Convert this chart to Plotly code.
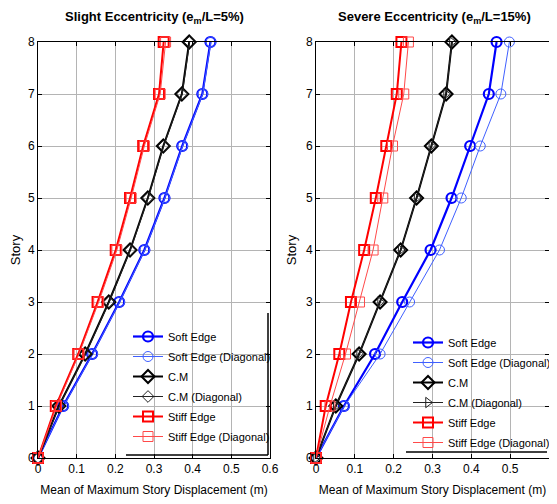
import plotly.graph_objects as go

stories = [0, 1, 2, 3, 4, 5, 6, 7, 8]
tick_vals_x = [0, 0.1, 0.2, 0.3, 0.4, 0.5, 0.6]
tick_text_x = ["0", "0.1", "0.2", "0.3", "0.4", "0.5", "0.6"]

# Slight eccentricity (e_m/L = 5%)
slight_soft = [0, 0.065, 0.140, 0.210, 0.275, 0.327, 0.373, 0.425, 0.446]
slight_soft_diag = [0, 0.066, 0.141, 0.211, 0.276, 0.328, 0.374, 0.426, 0.447]
slight_cm = [0, 0.054, 0.122, 0.183, 0.238, 0.284, 0.324, 0.372, 0.391]
slight_cm_diag = [0, 0.055, 0.123, 0.184, 0.239, 0.285, 0.325, 0.373, 0.392]
slight_stiff = [0, 0.046, 0.104, 0.154, 0.201, 0.238, 0.272, 0.313, 0.325]
slight_stiff_diag = [0, 0.048, 0.106, 0.157, 0.204, 0.241, 0.275, 0.316, 0.330]

# Severe eccentricity (e_m/L = 15%)
severe_soft = [0, 0.072, 0.152, 0.222, 0.295, 0.349, 0.397, 0.445, 0.465]
severe_soft_diag = [0, 0.073, 0.165, 0.241, 0.318, 0.374, 0.423, 0.476, 0.498]
severe_cm = [0, 0.051, 0.111, 0.165, 0.218, 0.259, 0.297, 0.335, 0.350]
severe_cm_diag = [0, 0.051, 0.111, 0.165, 0.218, 0.259, 0.297, 0.335, 0.350]
severe_stiff = [0, 0.025, 0.060, 0.090, 0.124, 0.154, 0.181, 0.208, 0.220]
severe_stiff_diag = [0, 0.036, 0.076, 0.112, 0.147, 0.172, 0.197, 0.226, 0.238]

names = ["Soft Edge", "Soft Edge (Diagonal)", "C.M", "C.M (Diagonal)",
         "Stiff Edge", "Stiff Edge (Diagonal)"]

FONT = "Liberation Sans Narrow, Arial Narrow, Liberation Sans, Arial"

BLUE, BLUE_D = "#0000ff", "#4060ff"
RED, RED_D = "#ff0000", "#ff4a4a"
BLACK, BLACK_D = "#000000", "#222222"

fig = go.Figure()

def add_panel(series, xa, ya, legend, cm_diag_symbol, tag):
    styles = [
        (BLUE, 2.2, "circle-open", 10, 2.2),
        (BLUE_D, 1, "circle-open", 10, 1),
        (BLACK, 2, "diamond-open", 10, 2),
        (BLACK_D, 1, cm_diag_symbol, 9, 1),
        (RED, 2, "square-open", 10, 2),
        (RED_D, 1, "square-open", 10, 1),
    ]
    for i, (name, vals, (col, lw, sym, ms, mlw)) in enumerate(zip(names, series, styles)):
        fig.add_trace(go.Scatter(
            x=vals, y=stories, name=name, mode="lines+markers",
            line=dict(color=col, width=lw),
            marker=dict(symbol=sym, size=ms, color=col, line=dict(color=col, width=mlw)),
            xaxis=xa, yaxis=ya, legend=legend, legendgroup=f"{tag}{i}", cliponaxis=False,
        ))

add_panel([slight_soft, slight_soft_diag, slight_cm, slight_cm_diag, slight_stiff, slight_stiff_diag],
          "x", "y", "legend", "diamond-open", "a")
add_panel([severe_soft, severe_soft_diag, severe_cm, severe_cm_diag, severe_stiff, severe_stiff_diag],
          "x2", "y2", "legend2", "triangle-right-open", "b")

# page has an 8px body margin: design in page pixels, convert to figure pixels
OFF = 8
W, H = 557 - OFF, 504 - OFF
PL, PR, PT, PB = 38, 549, 42, 458   # plot area edges in page pixels
L, R, T, B = PL - OFF, W - (PR - OFF), PT - OFF, H - (PB - OFF)
pw = W - L - R
ph = H - T - B

def px_x(p):
    return (p - OFF - L) / pw

def px_y(p):
    return (H - B - (p - OFF)) / ph

axis_common = dict(
    showline=True, linecolor="black", linewidth=1, mirror="ticks",
    ticks="inside", ticklen=4, tickcolor="black",
    showgrid=True, gridcolor="#b4b4b4", gridwidth=1, zeroline=False,
    tickfont=dict(family=FONT, size=12, color="black"),
)

xtitle = dict(text="Mean of Maximum Story Displacement (m)", font=dict(family=FONT, size=12, color="black"), standoff=10)
ytitle = dict(text="Story", font=dict(family=FONT, size=13, color="black"), standoff=6)

legend_common = dict(xanchor="left", yanchor="top", bgcolor="rgba(0,0,0,0)", borderwidth=0,
                     itemwidth=30, tracegroupgap=1, font=dict(family=FONT, size=11, color="black"))

fig.update_layout(
    width=W, height=H,
    margin=dict(l=L, r=R, t=T, b=B, autoexpand=False),
    paper_bgcolor="white", plot_bgcolor="white",
    font=dict(family=FONT, size=12, color="black"),
    xaxis=dict(domain=[0, px_x(270)], range=[0, 0.6], tickvals=tick_vals_x, ticktext=tick_text_x,
               title=xtitle, anchor="y", **axis_common),
    yaxis=dict(domain=[0, 1], range=[0, 8], dtick=1, title=ytitle, anchor="x", **axis_common),
    xaxis2=dict(domain=[px_x(316), 1], range=[0, 0.6], tickvals=tick_vals_x, ticktext=tick_text_x,
                title=xtitle, anchor="y2", **axis_common),
    yaxis2=dict(domain=[0, 1], range=[0, 8], dtick=1, title=ytitle, anchor="x2", **axis_common),
    legend=dict(x=px_x(128), y=px_y(322), **legend_common),
    legend2=dict(x=px_x(408), y=px_y(328), **legend_common),
    showlegend=True,
)

fig.add_annotation(text="<b>Slight Eccentricity (e<sub>m</sub>/L=5%)</b>", xref="paper", yref="paper",
                   x=px_x(154), y=px_y(17), xanchor="center", yanchor="middle", showarrow=False,
                   font=dict(family=FONT, size=13, color="black"))
fig.add_annotation(text="<b>Severe Eccentricity (e<sub>m</sub>/L=15%)</b>", xref="paper", yref="paper",
                   x=px_x(434), y=px_y(17), xanchor="center", yanchor="middle", showarrow=False,
                   font=dict(family=FONT, size=13, color="black"))

# legend box remnants (bottom/right edges)
fig.add_shape(type="line", xref="paper", yref="paper", x0=px_x(126), x1=px_x(268), y0=px_y(455), y1=px_y(455),
              line=dict(color="black", width=1.5))
fig.add_shape(type="line", xref="paper", yref="paper", x0=px_x(268), x1=px_x(268), y0=px_y(455), y1=px_y(313),
              line=dict(color="black", width=1.5))
fig.add_shape(type="line", xref="paper", yref="paper", x0=px_x(406), x1=px_x(547), y0=px_y(452), y1=px_y(452),
              line=dict(color="black", width=1.5))

fig.write_html("out.html")
